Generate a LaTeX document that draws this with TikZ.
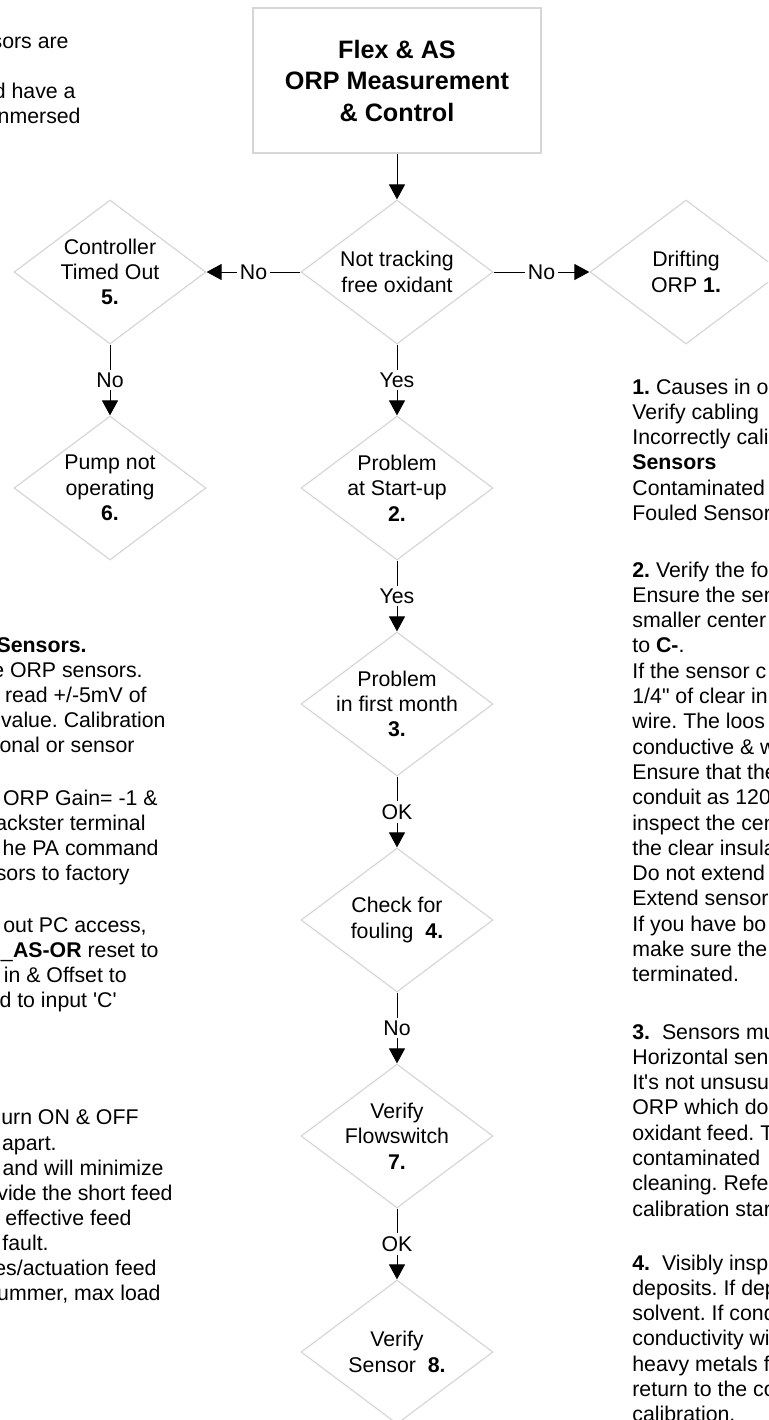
\documentclass[tikz,border=0pt]{standalone}
\usepackage{fontspec}
\setmainfont{Liberation Sans}[Ligatures=TeXOff]
\usetikzlibrary{arrows.meta,shapes.geometric}
\definecolor{lgray}{RGB}{214,214,214}
\frenchspacing
\newcommand{\bodyfont}{\fontsize{10.65pt}{12.65pt}\selectfont\frenchspacing}
\tikzset{
  dia/.style={diamond, draw=lgray, line width=0.6pt, minimum width=96pt, minimum height=72pt, inner sep=0pt},
  titlebox/.style={rectangle, draw=lgray, line width=0.6pt, minimum width=144pt, minimum height=72.5pt, inner sep=0pt},
  txt/.style={align=center, font=\bodyfont, inner sep=0pt},
  conn/.style={draw=black, line width=0.5pt, -{Triangle[length=7.5pt,width=8pt]}},
  lbl/.style={fill=white, font=\bodyfont, inner sep=1.5pt},
  rpara/.style={anchor=base west, font=\bodyfont, inner sep=0pt},
  lpara/.style={anchor=base east, font=\bodyfont, inner sep=0pt}
}
\begin{document}
\begin{tikzpicture}[x=0.5pt,y=-0.5pt]
\useasboundingbox (0,0) rectangle (768,1420);
\clip (0,0) rectangle (768,1420);

% title
\node[titlebox] (title) at (397,80.5) {};
\node[align=center, font=\fontsize{12.6pt}{15.75pt}\selectfont\bfseries, inner sep=0pt] (titletxt) at (title.center) {Flex \& AS\\ORP Measurement\\\& Control};

% diamonds
\node[dia] (nt) at (397,272) {};
\node[txt] (ntt) at (nt.center) {Not tracking\\free oxidant};
\node[dia] (co) at (110,272) {};
\node[txt] (cot) at (co.center) {Controller\\Timed Out\\\textbf{5.}};
\node[dia] (dr) at (686,272) {};
\node[txt] (drt) at (dr.center) {Drifting\\ORP \textbf{1.}};
\node[dia] (pu) at (110,488) {};
\node[txt] (put) at (pu.center) {Pump not\\operating\\\textbf{6.}};
\node[dia] (su) at (397,488) {};
\node[txt] (sut) at (su.center) {Problem\\at Start-up\\\textbf{2.}};
\node[dia] (fm) at (397,704) {};
\node[txt] (fmt) at (fm.center) {Problem\\in first month\\\textbf{3.}};
\node[dia] (fo) at (397,920) {};
\node[txt] (fot) at (fo.center) {Check for\\fouling\ \ \textbf{4.}};
\node[dia] (fl) at (397,1136) {};
\node[txt] (flt) at (fl.center) {Verify\\Flowswitch\\\textbf{7.}};
\node[dia] (se) at (397,1352) {};
\node[txt] (set) at (se.center) {Verify\\Sensor\ \ \textbf{8.}};

% connectors
\draw[conn] (title.south) -- (nt.north);
\draw[conn] (nt.west) -- node[lbl] (l1) {No} (co.east);
\draw[conn] (nt.east) -- node[lbl] (l2) {No} (dr.west);
\draw[conn] (co.south) -- node[lbl] (l3) {No} (pu.north);
\draw[conn] (nt.south) -- node[lbl] (l4) {Yes} (su.north);
\draw[conn] (su.south) -- node[lbl] (l5) {Yes} (fm.north);
\draw[conn] (fm.south) -- node[lbl] (l6) {OK} (fo.north);
\draw[conn] (fo.south) -- node[lbl] (l7) {No} (fl.north);
\draw[conn] (fl.south) -- node[lbl] (l8) {OK} (se.north);

% right column notes (cut off on the right)
\foreach \t [count=\i from 0] in {{\textbf{1.} Causes in o},{Verify cabling},{Incorrectly cali},{\textbf{Sensors}},{Contaminated},{Fouled Sensor}}
  \node[rpara] (ra\i) at (632,394+25.3*\i) {\t};
\foreach \t [count=\i from 0] in {{\textbf{2.} Verify the fo},{Ensure the sen},{smaller center},{to \textbf{C-}.},{If the sensor c},{1/4" of clear in},{wire. The loos},{conductive \& w},{Ensure that the},{conduit as 120},{inspect the cen},{the clear insula},{Do not extend},{Extend sensor},{If you have bo},{make sure the},{terminated.}}
  \node[rpara] (rb\i) at (632,577+25.3*\i) {\t};
\foreach \t [count=\i from 0] in {{\textbf{3.}\ \ Sensors mu},{Horizontal sen},{It's not unsusu},{ORP which do},{oxidant feed. T},{contaminated},{cleaning. Refe},{calibration star}}
  \node[rpara] (rc\i) at (632,1039+25.3*\i) {\t};
\foreach \t [count=\i from 0] in {{\textbf{4.}\ \ Visibly insp},{deposits. If dep},{solvent. If cond},{conductivity wi},{heavy metals f},{return to the co},{calibration.}}
  \node[rpara] (rd\i) at (632,1270+25.3*\i) {\t};

% left column notes (cut off on the left)
\foreach \x/\y/\t [count=\i] in {
  69/41/{sors are},
  76/91/{d have a},
  81/116/{nmersed},
  87/645/{\textbf{Sensors.}},
  143/670/{e ORP sensors.},
  147/695/{read +/-5mV of},
  166/720/{value. Calibration},
  135/745/{onal or sensor},
  158/798/{ORP Gain= -1 \&},
  146/823/{ackster terminal},
  159/848/{he PA command},
  130/873/{sors to factory},
  147/925/{out PC access,},
  159/950/{\_\textbf{AS-OR} reset to},
  127/975/{in \& Offset to},
  117/1000/{d to input 'C'},
  139/1117/{urn ON \& OFF},
  57/1143/{apart.},
  164/1168/{and will minimize},
  173/1193/{vide the short feed},
  132/1218/{effective feed},
  49/1243/{fault.},
  157/1268/{es/actuation feed},
  161/1293/{ummer, max load}}
  \node[lpara] (lt\i) at (\x,\y+7) {\t};
\end{tikzpicture}
\end{document}
